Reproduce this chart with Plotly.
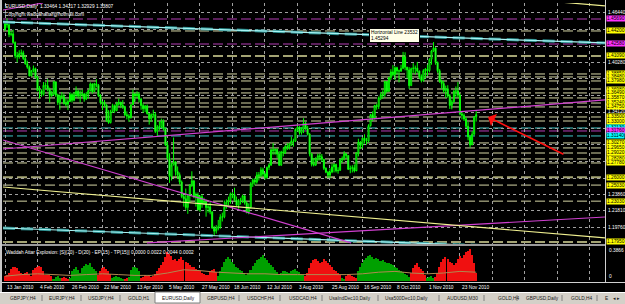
import plotly.graph_objects as go

# ---------------- data ----------------
first_open = 1.4440
closes = [1.4512, 1.4497, 1.4377,
          1.4384, 1.4277, 1.4111, 1.4101, 1.4139,
          1.4148, 1.4078, 1.4012, 1.3970, 1.3862,
          1.3927, 1.3952, 1.3842, 1.3679, 1.3673,
          1.3632, 1.3745, 1.3740, 1.3697, 1.3616,
          1.3637, 1.3787, 1.3622, 1.3530, 1.3614,
          1.3604, 1.3520, 1.3510, 1.3544, 1.3630,
          1.3559, 1.3628, 1.3670, 1.3611, 1.3628,
          1.3637, 1.3573, 1.3633, 1.3678, 1.3760,
          1.3665, 1.3764, 1.3745, 1.3618, 1.3527,
          1.3532, 1.3500, 1.3309, 1.3280, 1.3416,
          1.3491, 1.3431, 1.3513, 1.3533, 1.3496,
          1.3480, 1.3377, 1.3362, 1.3342, 1.3502,
          1.3636, 1.3615, 1.3634, 1.3572, 1.3493,
          1.3453, 1.3485, 1.3392, 1.3327, 1.3378,
          1.3382, 1.3171, 1.3226, 1.3231, 1.3296,
          1.3208, 1.3002, 1.2840, 1.2610, 1.2752,
          1.2794, 1.2672, 1.2632, 1.2540, 1.2360,
          1.2334, 1.2225, 1.2371, 1.2501, 1.2557,
          1.2356, 1.2379, 1.2195, 1.2358, 1.2273,
          1.2290, 1.2224, 1.2232, 1.2170, 1.1968,
          1.1930, 1.1965, 1.1985, 1.2104, 1.2108,
          1.2228, 1.2291, 1.2311, 1.2395, 1.2385,
          1.2318, 1.2252, 1.2309, 1.2314, 1.2369,
          1.2282, 1.2168, 1.2228, 1.2521, 1.2565,
          1.2540, 1.2631, 1.2620, 1.2693, 1.2640,
          1.2596, 1.2722, 1.2752, 1.2943, 1.2932,
          1.2946, 1.2889, 1.2751, 1.2916, 1.2904,
          1.2982, 1.2971, 1.3006, 1.3052, 1.3048,
          1.3194, 1.3224, 1.3155, 1.3196, 1.3274,
          1.3206, 1.3136, 1.2890, 1.2762, 1.2752,
          1.2825, 1.2868, 1.2855, 1.2823, 1.2711,
          1.2662, 1.2625, 1.2666, 1.2729, 1.2758,
          1.2682, 1.2686, 1.2817, 1.2832, 1.2892,
          1.2871, 1.2699, 1.2710, 1.2720, 1.2679,
          1.2903, 1.3037, 1.2996, 1.3086, 1.3055,
          1.3050, 1.3243, 1.3380, 1.3337, 1.3494,
          1.3480, 1.3589, 1.3628, 1.3630, 1.3791,
          1.3669, 1.3840, 1.3911, 1.3876, 1.3964,
          1.3924, 1.3922, 1.3955, 1.4099, 1.3969,
          1.3936, 1.3740, 1.3951, 1.3957, 1.3958,
          1.3920, 1.3854, 1.3803, 1.3926, 1.3945,
          1.3926, 1.4068, 1.4171, 1.4207, 1.4029,
          1.3926, 1.3795, 1.3766, 1.3678, 1.3702,
          1.3614, 1.3494, 1.3538, 1.3670, 1.3675,
          1.3621, 1.3388, 1.3372, 1.3326, 1.3234,
          1.3103, 1.3003, 1.3136, 1.3348, 1.3381]
highs = [1.4536, 1.4579, 1.4510,
         1.4420, 1.4437, 1.4290, 1.4160, 1.4180,
         1.4190, 1.4175, 1.4120, 1.4050, 1.3990,
         1.3935, 1.3990, 1.3965, 1.3860, 1.3735,
         1.3695, 1.3785, 1.3780, 1.3820, 1.3715,
         1.3675, 1.3800, 1.3790, 1.3640, 1.3630,
         1.3660, 1.3640, 1.3580, 1.3570, 1.3660,
         1.3650, 1.3660, 1.3730, 1.3690, 1.3680,
         1.3690, 1.3650, 1.3660, 1.3690, 1.3780,
         1.3770, 1.3775, 1.3820, 1.3760, 1.3635,
         1.3545, 1.3560, 1.3510, 1.3435, 1.3440,
         1.3515, 1.3505, 1.3540, 1.3580, 1.3540,
         1.3560, 1.3490, 1.3420, 1.3385, 1.3510,
         1.3690, 1.3650, 1.3670, 1.3660, 1.3590,
         1.3520, 1.3500, 1.3505, 1.3400, 1.3395,
         1.3440, 1.3410, 1.3250, 1.3300, 1.3330,
         1.3320, 1.3220, 1.3040, 1.2900, 1.2780,
         1.3095, 1.2800, 1.2735, 1.2660, 1.2560,
         1.2380, 1.2460, 1.2390, 1.2515, 1.2675,
         1.2555, 1.2410, 1.2410, 1.2375, 1.2390,
         1.2345, 1.2320, 1.2270, 1.2290, 1.2175,
         1.1995, 1.2005, 1.2070, 1.2140, 1.2160,
         1.2310, 1.2325, 1.2360, 1.2410, 1.2415,
         1.2470, 1.2360, 1.2330, 1.2345, 1.2385,
         1.2375, 1.2300, 1.2275, 1.2540, 1.2585,
         1.2590, 1.2665, 1.2665, 1.2725, 1.2720,
         1.2660, 1.2735, 1.2775, 1.2955, 1.3025,
         1.2960, 1.2960, 1.2925, 1.2930, 1.2970,
         1.3000, 1.3025, 1.3030, 1.3105, 1.3080,
         1.3210, 1.3260, 1.3235, 1.3225, 1.3335,
         1.3290, 1.3240, 1.3150, 1.2900, 1.2840,
         1.2850, 1.2895, 1.2895, 1.2890, 1.2830,
         1.2725, 1.2680, 1.2710, 1.2770, 1.2775,
         1.2770, 1.2725, 1.2830, 1.2860, 1.2925,
         1.2900, 1.2875, 1.2745, 1.2750, 1.2760,
         1.2910, 1.3080, 1.3050, 1.3100, 1.3135,
         1.3090, 1.3260, 1.3390, 1.3420, 1.3500,
         1.3515, 1.3605, 1.3660, 1.3680, 1.3800,
         1.3790, 1.3850, 1.3945, 1.3995, 1.3980,
         1.3975, 1.3940, 1.4000, 1.4160, 1.4155,
         1.3975, 1.3970, 1.3965, 1.4020, 1.3990,
         1.4035, 1.3930, 1.3880, 1.3945, 1.3960,
         1.4000, 1.4080, 1.4185, 1.4282, 1.4220,
         1.4040, 1.3945, 1.3815, 1.3800, 1.3740,
         1.3745, 1.3635, 1.3565, 1.3685, 1.3730,
         1.3785, 1.3640, 1.3425, 1.3395, 1.3350,
         1.3290, 1.3120, 1.3175, 1.3360, 1.3422]
lows = [1.4420, 1.4460, 1.4343,
        1.4355, 1.4260, 1.4080, 1.4030, 1.4075,
        1.4110, 1.4060, 1.4000, 1.3950, 1.3855,
        1.3855, 1.3905, 1.3830, 1.3670, 1.3580,
        1.3600, 1.3615, 1.3700, 1.3670, 1.3530,
        1.3600, 1.3620, 1.3600, 1.3500, 1.3440,
        1.3570, 1.3505, 1.3480, 1.3435, 1.3535,
        1.3530, 1.3545, 1.3595, 1.3580, 1.3530,
        1.3600, 1.3540, 1.3560, 1.3580, 1.3665,
        1.3640, 1.3660, 1.3720, 1.3600, 1.3505,
        1.3435, 1.3475, 1.3290, 1.3265, 1.3270,
        1.3400, 1.3400, 1.3420, 1.3490, 1.3460,
        1.3450, 1.3360, 1.3320, 1.3290, 1.3330,
        1.3575, 1.3540, 1.3590, 1.3530, 1.3440,
        1.3400, 1.3410, 1.3380, 1.3255, 1.3290,
        1.3340, 1.3150, 1.3110, 1.3180, 1.3210,
        1.3180, 1.2990, 1.2820, 1.2530, 1.2560,
        1.2750, 1.2620, 1.2580, 1.2510, 1.2340,
        1.2235, 1.2195, 1.2145, 1.2290, 1.2480,
        1.2340, 1.2235, 1.2190, 1.2170, 1.2220,
        1.2255, 1.2110, 1.2160, 1.2140, 1.1960,
        1.1876, 1.1900, 1.1940, 1.1960, 1.2050,
        1.2090, 1.2210, 1.2250, 1.2270, 1.2340,
        1.2300, 1.2240, 1.2210, 1.2260, 1.2280,
        1.2260, 1.2150, 1.2140, 1.2210, 1.2480,
        1.2500, 1.2520, 1.2560, 1.2600, 1.2610,
        1.2570, 1.2580, 1.2690, 1.2740, 1.2880,
        1.2880, 1.2840, 1.2740, 1.2740, 1.2860,
        1.2890, 1.2940, 1.2945, 1.2990, 1.2980,
        1.3040, 1.3170, 1.3130, 1.3130, 1.3150,
        1.3190, 1.3120, 1.2860, 1.2735, 1.2735,
        1.2740, 1.2800, 1.2810, 1.2790, 1.2690,
        1.2650, 1.2590, 1.2590, 1.2650, 1.2660,
        1.2660, 1.2645, 1.2680, 1.2780, 1.2810,
        1.2840, 1.2690, 1.2650, 1.2660, 1.2660,
        1.2690, 1.2860, 1.2950, 1.2960, 1.3020,
        1.3005, 1.3030, 1.3230, 1.3300, 1.3320,
        1.3440, 1.3450, 1.3560, 1.3575, 1.3600,
        1.3650, 1.3660, 1.3810, 1.3855, 1.3810,
        1.3880, 1.3780, 1.3910, 1.3945, 1.3930,
        1.3830, 1.3700, 1.3735, 1.3900, 1.3880,
        1.3900, 1.3820, 1.3780, 1.3790, 1.3830,
        1.3860, 1.3905, 1.4000, 1.4160, 1.4000,
        1.3900, 1.3775, 1.3700, 1.3650, 1.3590,
        1.3590, 1.3450, 1.3445, 1.3530, 1.3600,
        1.3590, 1.3370, 1.3320, 1.3300, 1.3215,
        1.3060, 1.2969, 1.3000, 1.3120, 1.3293]

# Waddah Attar Explosion histogram: + = green (up), - = red (down)
wae_hist = [-0.06, -0.08, -0.10,
            -0.15, -0.17, -0.18, -0.16,
            -0.12, -0.10, -0.09,
            -0.10, -0.11, -0.09,
            -0.06,
            -0.14, -0.16, -0.18, -0.19, -0.17, -0.13,
            -0.08,
            -0.07, -0.08, -0.06,
            0.03,
            0.05, 0.06, 0.04,
            -0.04, -0.05, -0.04, -0.03,
            0.04,
            0.12, 0.15, 0.17, 0.14,
            0.10,
            0.16, 0.19, 0.21, 0.20, 0.22, 0.18, 0.15, 0.12,
            -0.08,
            -0.13, -0.16, -0.17, -0.15, -0.12, -0.09,
            0.04, 0.05, 0.06, 0.05, 0.04, 0.03, -0.03, -0.04,
            0.05,
            0.14, 0.17, 0.18, 0.16, 0.12,
            -0.04, -0.05, -0.07, -0.06, -0.08, -0.05, -0.06, -0.09, -0.12,
            -0.16, -0.20, -0.24, -0.30, -0.36, -0.34, -0.31, -0.26, -0.28, -0.25, -0.27, -0.30, -0.26, -0.24,
            -0.22, -0.20, -0.18, -0.17, -0.15, -0.14, -0.12, -0.10, -0.09,
            -0.07, -0.08,
            -0.12, -0.14, -0.15, -0.11,
            0.06,
            0.12, 0.18, 0.24, 0.28, 0.30, 0.27, 0.24, 0.21, 0.18, 0.16, 0.14, 0.12, 0.10,
            0.07,
            0.10, 0.14, 0.19, 0.23, 0.26, 0.28, 0.30, 0.32, 0.29, 0.26, 0.23, 0.20, 0.17, 0.14,
            0.11, 0.09, 0.10, 0.12, 0.13, 0.11, 0.10, 0.12, 0.14, 0.15, 0.13, 0.11, 0.09, 0.08,
            -0.06, -0.10,
            -0.16, -0.22, -0.26, -0.28, -0.25, -0.22, -0.24, -0.27, -0.25, -0.22, -0.20, -0.17, -0.14, -0.12, -0.10, -0.08,
            0.04, 0.03,
            -0.06, -0.08, -0.07, -0.06, -0.05, -0.04,
            0.12, 0.18, 0.22, 0.26, 0.29, 0.31, 0.32, 0.30, 0.28, 0.29, 0.27, 0.25, 0.26, 0.24, 0.22, 0.23, 0.21, 0.20, 0.18, 0.16, 0.14, 0.13, 0.11, 0.09, 0.07, 0.05,
            -0.10, -0.16, -0.20, -0.22, -0.18, -0.15, -0.12, -0.08,
            0.04, 0.05, 0.06, 0.04,
            -0.05, -0.10,
            -0.18, -0.24, -0.28, -0.30, -0.27, -0.24, -0.22, -0.20, -0.23, -0.27, -0.31, -0.29, -0.33, -0.36, -0.38, -0.40, -0.32, -0.22, -0.10]
expl_idx = [0, 8, 16, 24, 32, 40, 48, 56, 64, 72, 80, 88, 96, 104, 112,
            120, 128, 136, 144, 152, 160, 168, 176, 184, 192, 200, 208, 216, 224, 232]
expl_val = [0.06, 0.08, 0.09, 0.08, 0.07, 0.08, 0.09, 0.08, 0.07, 0.07, 0.10, 0.14, 0.13, 0.11, 0.10,
            0.09, 0.09, 0.08, 0.08, 0.08, 0.08, 0.08, 0.09, 0.11, 0.12, 0.10, 0.09, 0.10, 0.12, 0.11]

# price scale (white labels) and horizontal-line objects (boxed labels)
price_grid = [1.4644, 1.4439, 1.4233, 1.4028, 1.3823, 1.3618, 1.3412,
              1.3207, 1.3002, 1.2797, 1.2591, 1.2386, 1.2181, 1.1976]
hline_prices = [1.4569, 1.4420, 1.4258, 1.4109, 1.3885, 1.3848, 1.3798, 1.3698,
                1.3649, 1.3587, 1.3524, 1.3475, 1.3350, 1.3300, 1.3213, 1.3176,
                1.3114, 1.3027, 1.2965, 1.2902, 1.2828, 1.2778, 1.2600, 1.2503,
                1.2303, 1.1795]
hline_kind = ["m", "y", "m", "Y", "y", "y", "y", "y",
              "y", "y", "y", "y", "y", "y", "c", "m",
              "c", "y", "y", "y", "y", "y", "Y", "y",
              "y", "Y"]

# trend lines (bar index, price)
tl_x0 = [-1.0, -1.0, -1.0, -1.0, 69.9, -1.0, -1.0, 273.3]
tl_y0 = [1.4532, 1.1969, 1.3064, 1.2952, 1.1783, 1.2479, 1.4681, 1.4780]
tl_x1 = [295.4, 295.4, 170.4, 295.4, 295.4, 295.4, 18.7, 295.4]
tl_y1 = [1.4271, 1.1695, 1.1783, 1.3562, 1.2106, 1.1845, 1.4768, 1.4731]
tl_kind = ["c", "c", "m", "m", "m", "y", "m", "y"]

arrow_head = (237.8, 1.3350)
arrow_tail = (275.7, 1.2877)

date_idx = [0, 16, 32, 48, 64, 80, 96, 112, 128, 144, 160, 176, 192, 208, 224]
date_labels = ["13 Jan 2010", "4 Feb 2010", "26 Feb 2010", "22 Mar 2010", "13 Apr 2010",
               "5 May 2010", "27 May 2010", "18 Jun 2010", "12 Jul 2010", "3 Aug 2010",
               "25 Aug 2010", "16 Sep 2010", "8 Oct 2010", "1 Nov 2010", "23 Nov 2010"]
ind_ticks = [0.3866, 0]

tab_names = ["GBPJPY,H4", "EURJPY,H4", "USDJPY,H4", "GOLD,H1", "EURUSD,Daily",
             "GBPUSD,H4", "USDCHF,H4", "USDCAD,H4", "UsaIndDec10,Daily", "Usa500Dec10,Daily",
             "AUDUSD,M30", "GOLD,H4", "GBPUSD,Daily", "GOLD,H4", "E"]
active_tab = "EURUSD,Daily"

title_text = "EURUSD,Daily  1.33464 1.34217 1.32929 1.33807"
copyright_text = "Copyright waddahattar@hotmail.com"
ind_title = "Waddah Attar Explosion: [S](20) - D(20) - EP(15) - TP(15)] 0.0000 0.0022 0.0044 0.0002"

# ---------------- layout constants (pixels) ----------------
W, H = 625, 304
FONT = "Liberation Sans"
FS = 4.8
PX_PER_PRICE = 241 / (1.4768 - 1.1770)


def px(x):
    return x / W


def py(y):
    return 1 - y / H


X_RANGE = [-0.985, 295.42]
Y_RANGE = [1.1770, 1.4768]
IND_RANGE = [-0.0125, 0.425]

line_col = {"y": "#d6d6a6", "Y": "#a4a474", "m": "#b43cb4", "c": "#40c8c8"}
line_w = {"y": 1, "Y": 2, "m": 1, "c": 1}
box_col = {"y": "#ffff00", "Y": "#ffff00", "m": "#ff30ff", "c": "#00ffff"}
trend_col = {"c": "#a8f4f4", "m": "#d040d0", "y": "#f0f090"}

fig = go.Figure()

# horizontal line objects
shapes = []
for p, k in zip(hline_prices, hline_kind):
    shapes.append(dict(type="line", xref="x", yref="y", x0=X_RANGE[0], x1=X_RANGE[1],
                       y0=p, y1=p, layer="below",
                       line=dict(color=line_col[k], width=line_w[k], dash="10px,4px")))

# candles
opens = [first_open] + closes[:-1]
idx = list(range(len(closes)))
fig.add_trace(go.Candlestick(
    x=idx, open=opens, high=highs, low=lows, close=closes,
    increasing=dict(line=dict(color="#00ff00", width=1), fillcolor="#000000"),
    decreasing=dict(line=dict(color="#00ff00", width=1), fillcolor="#a8ffa8"),
    whiskerwidth=0, showlegend=False, hoverinfo="skip", xaxis="x", yaxis="y"))

# trend lines
for x0, y0, x1, y1, k in zip(tl_x0, tl_y0, tl_x1, tl_y1, tl_kind):
    if k == "c":
        fig.add_trace(go.Scatter(x=[x0, x1], y=[y0, y1], mode="lines",
                                 line=dict(color="#2a8c8c", width=3, dash="12px,6px"),
                                 showlegend=False, hoverinfo="skip", xaxis="x", yaxis="y"))
    fig.add_trace(go.Scatter(x=[x0, x1], y=[y0, y1], mode="lines",
                             line=dict(color=trend_col[k], width=1.2),
                             showlegend=False, hoverinfo="skip", xaxis="x", yaxis="y"))

# indicator histogram
gx = [i for i, v in enumerate(wae_hist) if v > 0]
gy = [v for v in wae_hist if v > 0]
rx = [i for i, v in enumerate(wae_hist) if v < 0]
ry = [-v for v in wae_hist if v < 0]
fig.add_trace(go.Bar(x=gx, y=gy, marker=dict(color="#00a000", line=dict(width=0)),
                     width=0.75, showlegend=False, hoverinfo="skip", xaxis="x2", yaxis="y2"))
fig.add_trace(go.Bar(x=rx, y=ry, marker=dict(color="#f01010", line=dict(width=0)),
                     width=0.75, showlegend=False, hoverinfo="skip", xaxis="x2", yaxis="y2"))
fig.add_trace(go.Scatter(x=expl_idx, y=expl_val, mode="lines",
                         line=dict(color="#b08850", width=1),
                         showlegend=False, hoverinfo="skip", xaxis="x2", yaxis="y2"))

# frame pieces
shapes += [
    dict(type="line", xref="paper", yref="paper", x0=px(0), x1=px(605), y0=py(245), y1=py(245),
         line=dict(color="#9a9a9a", width=2)),
    dict(type="line", xref="paper", yref="paper", x0=px(605.5), x1=px(605.5), y0=py(0), y1=py(282.5),
         line=dict(color="#d0d0d0", width=1)),
    dict(type="line", xref="paper", yref="paper", x0=px(0), x1=px(625), y0=py(282.5), y1=py(282.5),
         line=dict(color="#d0d0d0", width=1)),
    dict(type="rect", xref="paper", yref="paper", x0=px(0), x1=px(2), y0=py(292), y1=py(0),
         fillcolor="#c8c8c8", line=dict(width=0)),
    dict(type="rect", xref="paper", yref="paper", x0=px(0), x1=px(625), y0=py(304), y1=py(292),
         fillcolor="#d4d0c8", line=dict(width=0)),
    dict(type="line", xref="paper", yref="paper", x0=px(0), x1=px(625), y0=py(292.5), y1=py(292.5),
         line=dict(color="#ffffff", width=1)),
]

annotations = []
# white price scale labels (only where no line label box covers them, as in the terminal)
for p in price_grid:
    covered = any(abs(p - q) * PX_PER_PRICE < 4.5 for q in hline_prices)
    if covered:
        continue
    annotations.append(dict(x=px(606), xref="paper", y=p, yref="y", xanchor="left", yanchor="middle",
                            text=f"{p:.5f}", showarrow=False,
                            font=dict(family=FONT, size=FS, color="#ffffff")))
# boxed labels for horizontal lines
for p, k in zip(hline_prices, hline_kind):
    annotations.append(dict(x=px(606), xref="paper", y=p, yref="y", xanchor="left", yanchor="middle",
                            text=f"{p:.5f}", showarrow=False, bgcolor=box_col[k], borderpad=0,
                            font=dict(family=FONT, size=FS, color="#000000")))
# indicator scale labels
for v in ind_ticks:
    annotations.append(dict(x=px(607), xref="paper", y=v, yref="y2", xanchor="left",
                            yanchor="bottom" if v == 0 else "middle",
                            text=f"{v:g}" if v == 0 else f"{v:.4f}", showarrow=False,
                            font=dict(family=FONT, size=FS, color="#ffffff")))
# date labels
for i, lab in zip(date_idx, date_labels):
    annotations.append(dict(x=i, xref="x2", y=py(287), yref="paper", xanchor="left", yanchor="middle",
                            text=lab, showarrow=False,
                            font=dict(family=FONT, size=FS, color="#ffffff")))
# titles
annotations.append(dict(x=px(3), y=py(2), xref="paper", yref="paper", xanchor="left", yanchor="top",
                        text=title_text, showarrow=False,
                        font=dict(family=FONT, size=FS, color="#ffffff")))
annotations.append(dict(x=px(3), y=py(10), xref="paper", yref="paper", xanchor="left", yanchor="top",
                        text=copyright_text, showarrow=False,
                        font=dict(family=FONT, size=FS, color="#ffffff")))
annotations.append(dict(x=px(4), y=py(248), xref="paper", yref="paper", xanchor="left", yanchor="top",
                        text=ind_title, showarrow=False,
                        font=dict(family=FONT, size=FS, color="#ffffff")))
# tooltip of the horizontal line
annotations.append(dict(x=px(369), y=py(28), xref="paper", yref="paper", xanchor="left", yanchor="top",
                        text="Horizontal Line 23532<br>1.45294", showarrow=False, align="left",
                        bgcolor="#ffffe8", bordercolor="#000000", borderwidth=1, borderpad=1,
                        font=dict(family=FONT, size=FS, color="#000000")))
# red arrow
annotations.append(dict(x=arrow_head[0], y=arrow_head[1], xref="x", yref="y",
                        ax=arrow_tail[0], ay=arrow_tail[1], axref="x", ayref="y",
                        text="", showarrow=True, arrowhead=1, arrowsize=1.4, arrowwidth=1.6,
                        arrowcolor="#ff1010"))
# tabs
tab_x = [8, 47, 86, 126, 160, 205, 245, 287, 327, 383, 445, 496, 524, 569, 603]
sep_x = [42, 81, 120, 239, 280, 322, 378, 439, 484, 517, 562, 597]
for x, name in zip(tab_x, tab_names):
    if name == active_tab:
        shapes.append(dict(type="rect", xref="paper", yref="paper", x0=px(155), x1=px(200),
                           y0=py(303), y1=py(292), fillcolor="#ffffff",
                           line=dict(color="#808080", width=1)))
    annotations.append(dict(x=px(x), y=py(298), xref="paper", yref="paper", xanchor="left",
                            yanchor="middle", text=name, showarrow=False,
                            font=dict(family=FONT, size=FS, color="#202020")))
for x in sep_x:
    shapes.append(dict(type="line", xref="paper", yref="paper", x0=px(x), x1=px(x),
                       y0=py(295), y1=py(301), line=dict(color="#808080", width=1)))
annotations.append(dict(x=px(611), y=py(298), xref="paper", yref="paper", xanchor="left",
                        yanchor="middle", text="◂ ▸", showarrow=False,
                        font=dict(family=FONT, size=FS, color="#202020")))

grid_x = list(range(0, 296, 16))
axis_common = dict(showline=False, zeroline=False, showticklabels=False, ticks="")
fig.update_layout(
    width=W, height=H, autosize=False,
    margin=dict(l=0, r=0, t=0, b=0, pad=0),
    paper_bgcolor="#000000", plot_bgcolor="#000000",
    showlegend=False, barmode="overlay", bargap=0,
    xaxis=dict(domain=[px(3), px(605)], range=X_RANGE, tickvals=grid_x, showgrid=True,
               gridcolor="#a0a0a0", griddash="dot", gridwidth=1,
               rangeslider=dict(visible=False), anchor="y", **axis_common),
    yaxis=dict(domain=[py(244), py(3)], range=Y_RANGE, tickvals=price_grid, showgrid=True,
               gridcolor="#a0a0a0", griddash="dot", gridwidth=1, anchor="x", **axis_common),
    xaxis2=dict(domain=[px(3), px(605)], range=X_RANGE, tickvals=grid_x, showgrid=True,
                gridcolor="#a0a0a0", griddash="dot", gridwidth=1, anchor="y2", **axis_common),
    yaxis2=dict(domain=[py(282), py(247)], range=IND_RANGE, showgrid=False, anchor="x2",
                **axis_common),
    shapes=shapes, annotations=annotations,
)

fig.write_html("out.html", config={"displayModeBar": False})
